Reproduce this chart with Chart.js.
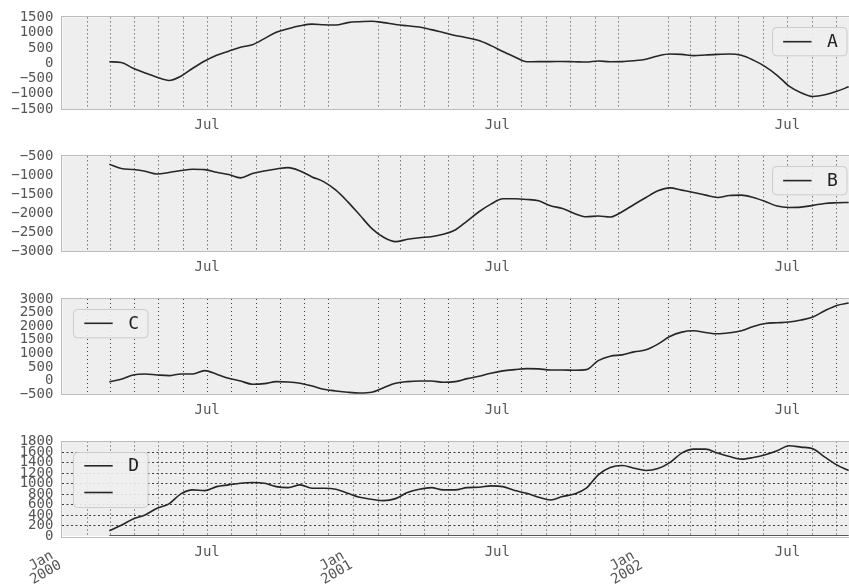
<!DOCTYPE html>
<html><head><meta charset="utf-8">
<script src="https://cdn.jsdelivr.net/npm/chart.js@4.4.1/dist/chart.umd.min.js"></script>
<style>
html,body{margin:0;padding:0;background:#fff;}
#wrap{position:relative;width:849px;height:584px;overflow:hidden;background:#fff;}
#wrap canvas{position:absolute;left:0;top:0;}
</style></head><body>
<div id="wrap">
<canvas id="cA" width="849" height="584"></canvas>
<canvas id="cB" width="849" height="584"></canvas>
<canvas id="cC" width="849" height="584"></canvas>
<canvas id="cD" width="849" height="584"></canvas>
</div>
<script>
// x values: days since 2000-01-01
const dayIndex = [59,74,89,104,119,134,149,164,179,194,209,224,239,254,269,284,299,314,329,344,359,374,389,404,419,434,449,464,479,494,509,524,539,554,569,584,599,614,629,644,659,674,689,704,719,734,749,764,779,794,809,824,839,854,869,884,899,914,929,944,959,974,989];

const seriesA = [47,20,-165,-320,-460,-565,-425,-165,70,260,395,520,605,805,1015,1130,1225,1280,1260,1250,1330,1360,1375,1330,1270,1225,1185,1100,1005,910,835,740,575,385,205,47,50,50,57,47,37,70,47,50,80,130,237,300,290,247,270,290,300,258,100,-110,-395,-750,-965,-1090,-1035,-920,-775];

const seriesB = [-709,-822,-848,-892,-962,-926,-874,-840,-848,-918,-978,-1066,-952,-883,-831,-796,-883,-1040,-1170,-1387,-1693,-2040,-2387,-2622,-2737,-2675,-2633,-2607,-2545,-2431,-2197,-1953,-1753,-1614,-1614,-1631,-1667,-1797,-1866,-1997,-2084,-2066,-2092,-1953,-1762,-1579,-1405,-1327,-1387,-1448,-1518,-1579,-1527,-1518,-1579,-1683,-1805,-1840,-1831,-1787,-1735,-1718,-1709];

const seriesC = [-40,53,211,248,211,185,248,248,370,237,90,-10,-131,-109,-35,-47,-95,-194,-316,-378,-426,-452,-426,-256,-95,-35,-10,-10,-58,-35,75,163,274,359,406,443,432,395,395,384,406,738,900,948,1058,1132,1342,1622,1784,1832,1770,1722,1758,1832,1991,2101,2127,2153,2226,2337,2569,2764,2853];

const seriesD = [101,204,325,401,528,611,802,878,865,941,974,1006,1018,1006,941,922,974,910,910,891,814,738,700,674,712,827,891,922,878,878,922,929,955,941,865,814,738,687,751,802,910,1164,1304,1342,1292,1247,1285,1399,1579,1655,1655,1579,1514,1464,1495,1546,1623,1718,1693,1661,1502,1355,1247];

// unlabeled second line in the bottom panel (lies on zero)
const seriesE = [0,0,0,0,0,0,0,0,0,0,0,0,0,0,0,0,0,0,0,0,0,0,0,0,0,0,0,0,0,0,0,0,0,0,0,0,0,0,0,0,0,0,0,0,0,0,0,0,0,0,0,0,0,0,0,0,0,0,0,0,0,0,0];

const monthStarts = ['2000-01-01','2000-02-01','2000-03-01','2000-04-01','2000-05-01','2000-06-01','2000-07-01','2000-08-01','2000-09-01','2000-10-01','2000-11-01','2000-12-01',
  '2001-01-01','2001-02-01','2001-03-01','2001-04-01','2001-05-01','2001-06-01','2001-07-01','2001-08-01','2001-09-01','2001-10-01','2001-11-01','2001-12-01',
  '2002-01-01','2002-02-01','2002-03-01','2002-04-01','2002-05-01','2002-06-01','2002-07-01','2002-08-01','2002-09-01'];
const julTicks = ['2000-07-01','2001-07-01','2002-07-01'];
const julLabel = 'Jul';
const janTicks = ['2000-01-01','2001-01-01','2002-01-01'];
const janLabels = [['Jan','2000'],['Jan','2001'],['Jan','2002']];

const yTicksA = [-1500,-1000,-500,0,500,1000,1500];
const yTicksB = [-3000,-2500,-2000,-1500,-1000,-500];
const yTicksC = [-500,0,500,1000,1500,2000,2500,3000];
const yTicksD = [0,200,400,600,800,1000,1200,1400,1600,1800];

const XMAX = 989.4;
const toDay = s => (Date.parse(s + 'T00:00:00Z') - Date.parse('2000-01-01T00:00:00Z')) / 864e5;
const monthDays = monthStarts.map(toDay).filter(d => d <= XMAX);
const julDays = julTicks.map(toDay);
const janDays = janTicks.map(toDay);

const MONO = "'DejaVu Sans Mono', monospace";
const fmt = v => v < 0 ? '\u2212' + Math.abs(v) : String(v);

const framePlugin = {
  id: 'frame',
  beforeDraw(chart) {
    const a = chart.chartArea, c = chart.ctx;
    c.save(); c.fillStyle = '#eeeeee';
    c.fillRect(a.left, a.top, a.right - a.left, a.bottom - a.top);
    c.restore();
  },
  beforeDatasetsDraw(chart) {
    const a = chart.chartArea, c = chart.ctx;
    c.save(); c.strokeStyle = '#bcbcbc'; c.lineWidth = 1;
    c.strokeRect(Math.round(a.left) - 0.5, Math.round(a.top) - 0.5, Math.round(a.right - a.left) + 2, Math.round(a.bottom - a.top) + 1);
    c.restore();
  }
};

const boxLegendPlugin = {
  id: 'boxLegend',
  afterDatasetsDraw(chart, args, o) {
    if (!o || !o.side) return;
    const a = chart.chartArea, c = chart.ctx;
    const ds = chart.data.datasets;
    const w = 74.5, rowH = 26.7, h = 28.3 + (ds.length - 1) * rowH;
    const x0 = o.side === 'left' ? a.left + 10.3 : a.right - 3 - w;
    const y0 = a.top + 10;
    c.save();
    c.beginPath();
    c.roundRect(Math.round(x0) + 0.5, Math.round(y0) + 0.5, w, h, 4);
    c.fillStyle = 'rgba(238,238,238,0.9)'; c.fill();
    c.strokeStyle = '#cccccc'; c.lineWidth = 1; c.stroke();
    ds.forEach((d, i) => {
      const yc = y0 + 14.3 + i * rowH;
      c.beginPath(); c.moveTo(x0 + 11.6, yc); c.lineTo(x0 + 40, yc);
      c.strokeStyle = '#262626'; c.lineWidth = 1.6; c.stroke();
      if (d.label) {
        c.fillStyle = '#222'; c.font = '18px ' + MONO;
        c.textAlign = 'center'; c.textBaseline = 'middle';
        c.fillText(d.label, x0 + 61, yc + 1);
      }
    });
    c.restore();
  }
};

// x-axis labels placed through the x scale
const xLabelPlugin = {
  id: 'xLabels',
  afterDraw(chart, args, o) {
    const c = chart.ctx, x = chart.scales.x, bottom = chart.chartArea.bottom;
    c.save();
    c.fillStyle = '#555'; c.font = '14px ' + MONO;
    c.textAlign = 'center'; c.textBaseline = 'alphabetic';
    julDays.forEach(d => {
      if (d > XMAX) return;
      c.fillText(julLabel, x.getPixelForValue(d), bottom + 19.5);
    });
    if (o && o.jan) {
      c.textAlign = 'right';
      janDays.forEach((d, i) => {
        const px = x.getPixelForValue(d);
        c.save();
        c.translate(px - 12, bottom + 10.5);
        c.rotate(-Math.PI / 6);
        c.fillText(janLabels[i][0], -2.5, 11.6);
        c.fillText(janLabels[i][1], 0, 24);
        c.restore();
      });
    }
    c.restore();
  }
};

function makeChart(id, cfg) {
  return new Chart(document.getElementById(id), {
    type: 'line',
    data: {
      datasets: cfg.series.map(s => ({
        label: s.label,
        data: dayIndex.map((d, i) => ({ x: d, y: s.values[i] })),
        borderColor: '#262626', borderWidth: 1.6, pointRadius: 0,
        cubicInterpolationMode: 'monotone', fill: false
      }))
    },
    options: {
      responsive: false, animation: false, events: [],
      layout: { padding: { left: 0, right: 0, top: cfg.top, bottom: 584 - cfg.bottom } },
      plugins: {
        legend: { display: false }, tooltip: { enabled: false },
        boxLegend: { side: cfg.legendSide },
        xLabels: { jan: !!cfg.janLabels }
      },
      scales: {
        x: {
          type: 'linear', min: 0, max: XMAX,
          afterBuildTicks(s) { s.ticks = monthDays.map(v => ({ value: v })); },
          afterFit(s) { s.height = 0; },
          grid: {
            drawTicks: false, lineWidth: 1,
            color: ctx => {
              const v = ctx.tick ? ctx.tick.value : 0;
              if (v === 0) return 'rgba(0,0,0,0)';
              if (!cfg.janGrid && janDays.includes(v)) return 'rgba(0,0,0,0)';
              return 'rgba(30,30,30,0.85)';
            }
          },
          border: { display: false, dash: [1, 3] },
          ticks: { display: false }
        },
        y: {
          min: cfg.yTicks[0], max: cfg.yTicks[cfg.yTicks.length - 1],
          afterBuildTicks(s) { s.ticks = cfg.yTicks.map(v => ({ value: v })); },
          afterFit(s) { s.width = 62.4; },
          grid: {
            display: !!cfg.hGrid, drawTicks: false, lineWidth: 1,
            color: ctx => {
              const v = ctx.tick ? ctx.tick.value : 0;
              if (v === cfg.yTicks[0] || v === cfg.yTicks[cfg.yTicks.length - 1]) return 'rgba(0,0,0,0)';
              return 'rgba(30,30,30,0.85)';
            }
          },
          border: { display: false, dash: [2, 2.5] },
          ticks: {
            autoSkip: false, padding: 9, color: '#555', font: { family: MONO, size: 14 },
            callback: v => fmt(v)
          }
        }
      }
    },
    plugins: [framePlugin, boxLegendPlugin, xLabelPlugin]
  });
}

makeChart('cA', { top: 14, bottom: 109, yTicks: yTicksA, legendSide: 'right', series: [{ label: 'A', values: seriesA }] });
makeChart('cB', { top: 156.3, bottom: 251.7, yTicks: yTicksB, legendSide: 'right', series: [{ label: 'B', values: seriesB }] });
makeChart('cC', { top: 299, bottom: 394.3, yTicks: yTicksC, legendSide: 'left', series: [{ label: 'C', values: seriesC }] });
makeChart('cD', { top: 441.5, bottom: 536, yTicks: yTicksD, legendSide: 'left', hGrid: true, janGrid: true, janLabels: true,
  series: [{ label: 'D', values: seriesD }, { label: '', values: seriesE }] });
</script>
</body></html>
